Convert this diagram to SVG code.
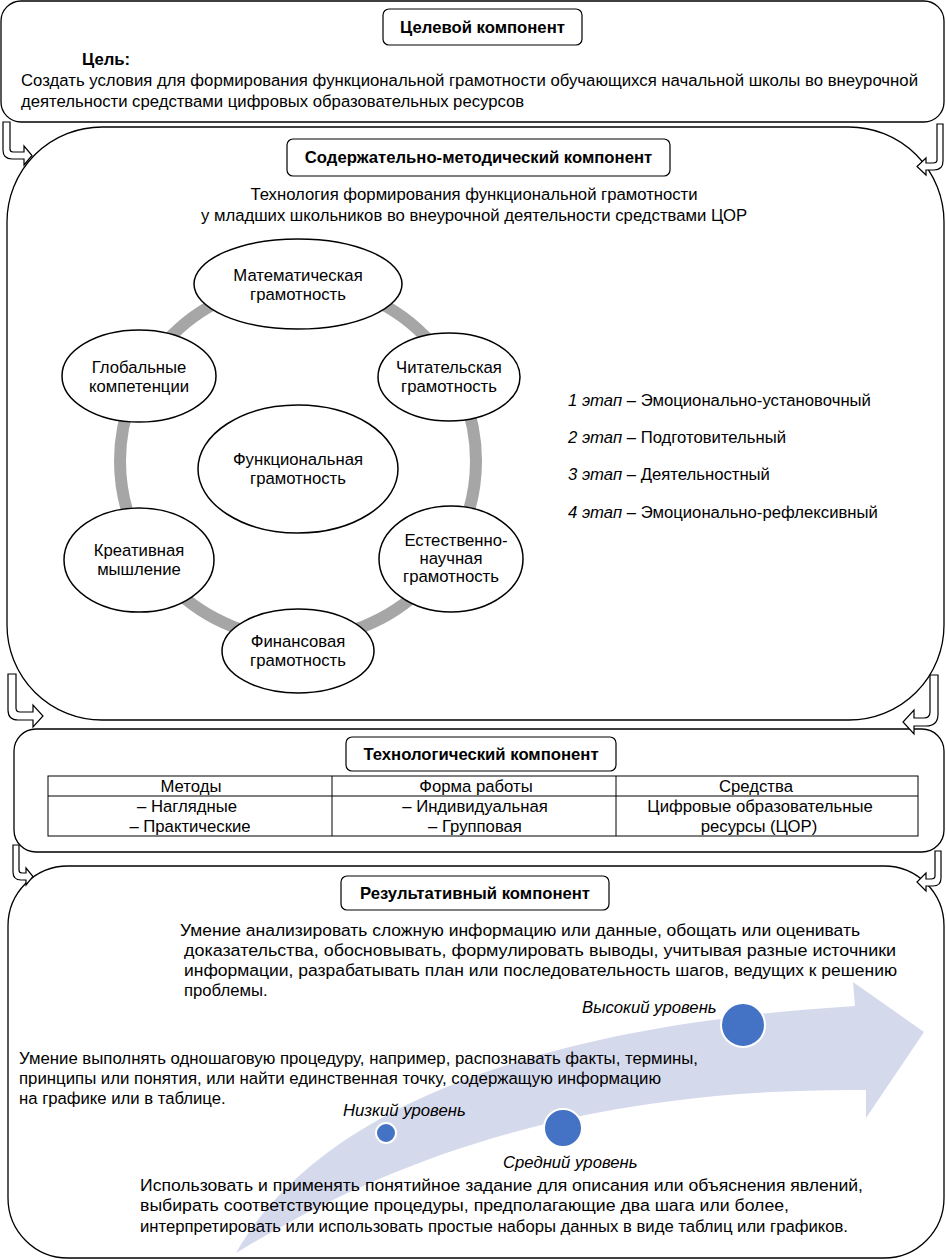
<svg xmlns="http://www.w3.org/2000/svg" width="946" height="1260" viewBox="0 0 946 1260">
<style>
text{font-family:"Liberation Sans",Arial,sans-serif;fill:#000}
.t{font-size:16.7px}
.b{font-size:16.7px;font-weight:bold}
.c{text-anchor:middle}
.i{font-style:italic}
.box{fill:#fff;stroke:#000;stroke-width:1.3}
.tb{fill:#fff;stroke:#000;stroke-width:1.2}
.el{fill:#fff;stroke:#000;stroke-width:1.5}
.arr{fill:#fff;stroke:#000;stroke-width:1.2}
.dot{fill:#4472C4;stroke:#fff;stroke-width:2}
</style>
<rect width="946" height="1260" fill="#fff"/>

<g id="goal">
<rect class="box" x="1" y="1" width="943" height="121" rx="20"/>
<rect class="tb" x="383" y="9" width="199" height="36" rx="6"/>
<text class="b c" x="482.5" y="33">Целевой компонент</text>
<text class="b" x="82" y="65">Цель:</text>
<text class="t" x="21" y="86" textLength="897" lengthAdjust="spacingAndGlyphs">Создать условия для формирования функциональной грамотности обучающихся начальной школы во внеурочной</text>
<text class="t" x="21" y="107">деятельности средствами цифровых образовательных ресурсов</text>
</g>

<g id="content">
<rect class="box" x="7" y="127" width="937" height="593" rx="95"/>
<rect class="tb" x="287" y="139" width="383" height="37" rx="6"/>
<text class="b c" x="478.5" y="163">Содержательно-методический компонент</text>
<text class="t c" x="474" y="200">Технология формирования функциональной грамотности</text>
<text class="t c" x="474" y="221">у младших школьников во внеурочной деятельности средствами ЦОР</text>
<circle cx="298" cy="461" r="178" fill="none" stroke="#A6A6A6" stroke-width="12"/>
</g>

<g id="math"><ellipse class="el" cx="298" cy="284" rx="104" ry="45"/>
<text class="t c" x="298" y="281">Математическая</text><text class="t c" x="298" y="300">грамотность</text></g>
<g id="global"><ellipse class="el" cx="139" cy="376" rx="77" ry="46"/>
<text class="t c" x="139" y="373">Глобальные</text><text class="t c" x="139" y="392">компетенции</text></g>
<g id="reading"><ellipse class="el" cx="449" cy="377" rx="71" ry="44"/>
<text class="t c" x="449" y="373">Читательская</text><text class="t c" x="449" y="392">грамотность</text></g>
<g id="functional"><ellipse class="el" cx="298" cy="469" rx="100" ry="64"/>
<text class="t c" x="298" y="465">Функциональная</text><text class="t c" x="298" y="484">грамотность</text></g>
<g id="creative"><ellipse class="el" cx="139" cy="560" rx="75" ry="52"/>
<text class="t c" x="139" y="556">Креативная</text><text class="t c" x="139" y="575">мышление</text></g>
<g id="natural"><ellipse class="el" cx="451" cy="559" rx="72" ry="53"/>
<text class="t c" x="456" y="546">Естественно-</text><text class="t c" x="451" y="564">научная</text><text class="t c" x="451" y="582">грамотность</text></g>
<g id="finance"><ellipse class="el" cx="298" cy="651" rx="76" ry="42"/>
<text class="t c" x="298" y="647">Финансовая</text><text class="t c" x="298" y="666">грамотность</text></g>

<g id="stages">
<text class="t" x="568" y="406"><tspan class="i">1 этап</tspan> – Эмоционально-установочный</text>
<text class="t" x="568" y="443"><tspan class="i">2 этап</tspan> – Подготовительный</text>
<text class="t" x="568" y="480"><tspan class="i">3 этап</tspan> – Деятельностный</text>
<text class="t" x="568" y="518"><tspan class="i">4 этап</tspan> – Эмоционально-рефлексивный</text>
</g>

<g id="tech">
<rect class="box" x="14" y="729" width="930" height="123" rx="22"/>
<rect class="tb" x="346" y="737" width="270" height="34" rx="6"/>
<text class="b c" x="481" y="760">Технологический компонент</text>
<g fill="none" stroke="#000" stroke-width="1">
<rect x="48" y="776" width="870" height="60"/>
<line x1="48" y1="796" x2="918" y2="796"/>
<line x1="332" y1="776" x2="332" y2="836"/>
<line x1="616" y1="776" x2="616" y2="836"/>
</g>
<text class="t c" x="191" y="792">Методы</text>
<text class="t c" x="476" y="792">Форма работы</text>
<text class="t c" x="756" y="792">Средства</text>
<text class="t c" x="187" y="812">– Наглядные</text>
<text class="t c" x="190" y="832">– Практические</text>
<text class="t c" x="475" y="812">– Индивидуальная</text>
<text class="t c" x="475" y="832">– Групповая</text>
<text class="t c" x="760" y="812">Цифровые образовательные</text>
<text class="t c" x="759" y="832">ресурсы (ЦОР)</text>
</g>

<g id="result">
<rect class="box" x="8" y="866" width="936" height="392" rx="60"/>
<path d="M236,1253 C300,1140 470,1030 855,1006 L853,982 L924,1032 L866,1118 L866,1090 C620,1088 420,1140 236,1253 Z" fill="#D5D9EC"/>
<rect class="tb" x="341" y="876" width="268" height="34" rx="6"/>
<text class="b c" x="475" y="899">Результативный компонент</text>
<text class="t" x="180" y="936" textLength="680" lengthAdjust="spacingAndGlyphs">Умение анализировать сложную информацию или данные, обощать или оценивать</text>
<text class="t" x="184" y="956" textLength="712" lengthAdjust="spacingAndGlyphs">доказательства, обосновывать, формулировать выводы, учитывая разные источники</text>
<text class="t" x="184" y="976" textLength="713" lengthAdjust="spacingAndGlyphs">информации, разрабатывать план или последовательность шагов, ведущих к решению</text>
<text class="t" x="184" y="996">проблемы.</text>
<text class="t i" x="582" y="1013">Высокий уровень</text>
<circle class="dot" cx="743" cy="1025" r="22"/>
<text class="t" x="19" y="1064" textLength="679" lengthAdjust="spacingAndGlyphs">Умение выполнять одношаговую процедуру, например, распознавать факты, термины,</text>
<text class="t" x="19" y="1084" textLength="642" lengthAdjust="spacingAndGlyphs">принципы или понятия, или найти единственная точку, содержащую информацию</text>
<text class="t" x="19" y="1104">на графике или в таблице.</text>
<text class="t i" x="343" y="1116">Низкий уровень</text>
<circle class="dot" cx="386" cy="1133" r="10"/>
<circle class="dot" cx="563" cy="1128" r="19"/>
<text class="t i" x="503" y="1168">Средний уровень</text>
<text class="t" x="140" y="1191" textLength="723" lengthAdjust="spacingAndGlyphs">Использовать и применять понятийное задание для описания или объяснения явлений,</text>
<text class="t" x="140" y="1211" textLength="649" lengthAdjust="spacingAndGlyphs">выбирать соответствующие процедуры, предполагающие два шага или более,</text>
<text class="t" x="140" y="1232" textLength="708" lengthAdjust="spacingAndGlyphs">интерпретировать или использовать простые наборы данных в виде таблиц или графиков.</text>
</g>

<g id="connectors">
<path class="arr" d="M3,122 V150 Q3,159 12,159 H24 V165 L32,155.5 L24,146 V152 H13 Q10,152 10,149 V122 Z"/>
<path class="arr" d="M943,124 V161 Q943,170 934,170 H926 V175 L917,166.5 L926,158 V163 H933 Q937,163 937,160 V124 Z"/>
<path class="arr" d="M8,674 V710 Q8,720 18,720 H33 V727 L43,716 L33,705 V712 H20 Q16,712 16,708 V674 Z"/>
<path class="arr" d="M938,675 V714 Q938,726 926,726 H914 V734 L903,722 L914,710 V718 H924 Q930,718 930,712 V675 Z"/>
<path class="arr" d="M13,845 V872 Q13,880 21,880 H26 V885 L33,876.5 L26,868 V873 H22 Q19,873 19,870 V845 Z"/>
<path class="arr" d="M941,851 V878 Q941,886 933,886 H926 V891 L917,882 L926,873 V879 H931 Q935,879 935,876 V851 Z"/>
</g>
</svg>
